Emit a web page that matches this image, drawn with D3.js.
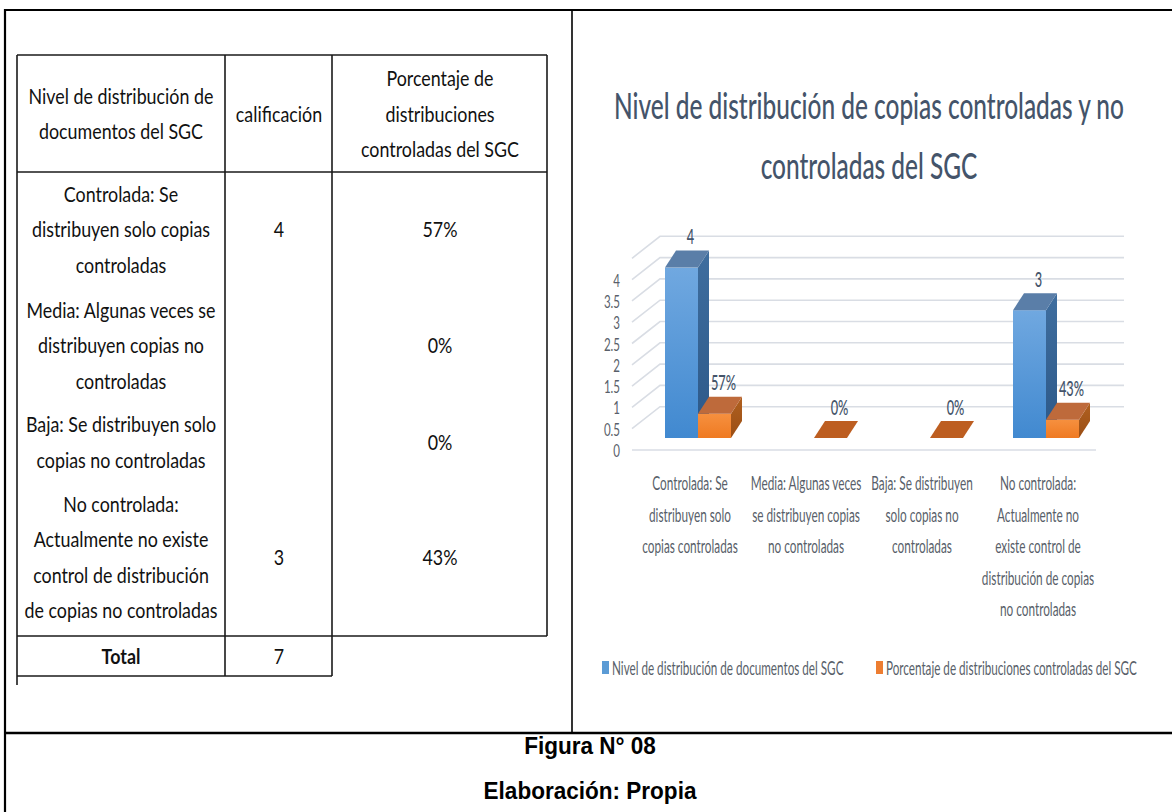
<!DOCTYPE html>
<html>
<head>
<meta charset="utf-8">
<script src="https://cdn.jsdelivr.net/npm/d3@7"></script>
<style>
  html, body { margin: 0; padding: 0; background: #fff; }
  svg { display: block; }
</style>
</head>
<body>
<svg id="fig" width="1172" height="812"></svg>
<script>
// ---- data ----
const categories = ["Controlada", "Media", "Baja", "No controlada"];
const tableRowLines = [
  ["Controlada: Se", "distribuyen solo copias", "controladas"],
  ["Media: Algunas veces se", "distribuyen copias no", "controladas"],
  ["Baja: Se distribuyen solo", "copias no controladas"],
  ["No controlada:", "Actualmente no existe", "control de distribución", "de copias no controladas"]
];
const axisLabelLines = [
  ["Controlada: Se", "distribuyen solo", "copias controladas"],
  ["Media: Algunas veces", "se distribuyen copias", "no controladas"],
  ["Baja: Se distribuyen", "solo copias no", "controladas"],
  ["No controlada:", "Actualmente no", "existe control de", "distribución de copias", "no controladas"]
];
const nivel = [4, null, null, 3];            // calificación
const porcentaje = [0.57, 0, 0, 0.43];       // porcentaje de distribuciones controladas
const headers = [
  ["Nivel de distribución de", "documentos del SGC"],
  ["calificación"],
  ["Porcentaje de", "distribuciones", "controladas del SGC"]
];
const seriesNames = ["Nivel de distribución de documentos del SGC",
                     "Porcentaje de distribuciones controladas del SGC"];
const yTicks = [0, 0.5, 1, 1.5, 2, 2.5, 3, 3.5, 4];
const gridValues = [0.5, 1, 1.5, 2, 2.5, 3, 3.5, 4, 4.5];
const chartTitle = ["Nivel de distribución de copias controladas y no", "controladas del SGC"];
const footer = ["Figura N° 08", "Elaboración: Propia"];

// ---- helpers ----
const svg = d3.select("#fig");
const SANS = "Lato, 'Open Sans', sans-serif";
const pct = d3.format(".0%");

function text(sel, x, y, s, o) {
  return sel.append("text")
    .attr("transform", `translate(${x},${y}) scale(${o.sx || 1},1)`)
    .attr("text-anchor", o.anchor || "middle")
    .attr("dominant-baseline", "central")
    .style("font-family", o.family || SANS)
    .style("font-size", o.size + "px")
    .style("font-weight", o.weight || 400)
    .attr("fill", o.fill || "#000")
    .text(s);
}
function line(sel, x1, y1, x2, y2, w, c) {
  sel.append("line").attr("x1", x1).attr("y1", y1).attr("x2", x2).attr("y2", y2)
    .attr("stroke", c || "#000").attr("stroke-width", w);
}

// ---- page frame ----
const frame = svg.append("g");
line(frame, 5, 10, 1172, 10, 2.2);
line(frame, 5, 9, 5, 812, 2.2);
line(frame, 572, 10, 572, 733, 1.6);
line(frame, 5, 733, 1172, 733, 2.4);
footer.forEach((s, i) =>
  text(frame, 590, 746 + i * 45, s, {size: 23, weight: 700, family: "'Liberation Sans', Arial, sans-serif", sx: 0.98}));

// ---- table ----
const tbl = svg.append("g");
const colX = [17, 225, 332, 547];
const colC = [121, 279, 440];
const tTop = 55, tHead = 172, tBody = 636, tTot = 676;
const tc = "#1a1a1a";
line(tbl, colX[0], tTop, colX[3], tTop, 1.6, tc);
line(tbl, colX[0], tHead, colX[3], tHead, 1.6, tc);
line(tbl, colX[0], tBody, colX[3], tBody, 1.6, tc);
line(tbl, colX[0], tTot, colX[2], tTot, 1.6, tc);
line(tbl, colX[0], tTop, colX[0], 685, 1.6, tc);
line(tbl, colX[1], tTop, colX[1], tTot, 1.6, tc);
line(tbl, colX[2], tTop, colX[2], tTot, 1.6, tc);
line(tbl, colX[3], tTop, colX[3], tBody, 1.6, tc);

const TF = {size: 21.5, sx: 0.83, fill: "#111"};
const LH = 35.5;
headers.forEach((lines, c) => {
  const mid = (tTop + tHead) / 2;
  lines.forEach((s, i) => text(tbl, colC[c], mid + (i - (lines.length - 1) / 2) * LH, s, TF));
});
const rowMid = [229, 345, 442, 557];
tableRowLines.forEach((lines, r) => {
  lines.forEach((s, i) => text(tbl, colC[0], rowMid[r] + (i - (lines.length - 1) / 2) * LH, s, TF));
  if (nivel[r] != null) text(tbl, colC[1], rowMid[r], String(nivel[r]), TF);
  text(tbl, colC[2], rowMid[r], pct(porcentaje[r]), TF);
});
text(tbl, colC[0], 656, "Total", {...TF, weight: 700});
text(tbl, colC[1], 656, String(d3.sum(nivel)), TF);

// ---- chart ----
const ch = svg.append("g");
const titleC = "#44546a", axisC = "#595f6a", gridC = "#d9dde4";
chartTitle.forEach((s, i) => text(ch, 869, 105 + i * 60, s, {size: 37, sx: 0.66, fill: titleC, weight: 500}));

const x = d3.scaleBand().domain(categories).range([632, 1096]);
const y = d3.scaleLinear().domain([0, 4.5]).range([450, 450 - 4.5 * 42.6]);
const wall = {dx: 28, dy: -22};     // depth of the back wall
const base = -12;                    // bars sit a little behind the front edge
const depth = {dx: 11, dy: -17};     // depth of each column
const bw = 33;

// grid: side-wall diagonals + back-wall horizontals
const grid = ch.append("g").attr("stroke", gridC).attr("stroke-width", 1.6).attr("fill", "none");
grid.selectAll("path.g").data(gridValues).join("path")
  .attr("d", v => `M${x.range()[0]},${y(v)} L${x.range()[0] + wall.dx},${y(v) + wall.dy} L${x.range()[1] + wall.dx},${y(v) + wall.dy}`);
grid.append("path").attr("d", `M${x.range()[0]},${y(0)} L${x.range()[1]},${y(0)}`);

// y-axis labels on the front edge
ch.selectAll("g.yt").data(yTicks).join(g => g.append("g")).each(function (v) {
  text(d3.select(this), 620, y(v), String(v), {size: 17.5, sx: 0.66, anchor: "end", fill: axisC});
});

// gradients for the column faces
const defs = svg.append("defs");
function grad(id, c1, c2) {
  const g = defs.append("linearGradient").attr("id", id).attr("x1", 0).attr("y1", 0).attr("x2", 0).attr("y2", 1);
  g.append("stop").attr("offset", 0).attr("stop-color", c1);
  g.append("stop").attr("offset", 1).attr("stop-color", c2);
}
grad("bFront", "#70a8e0", "#4189d0");
grad("bSide", "#3f6e9f", "#2c5888");
grad("oFront", "#f6903f", "#ef7a22");
grad("oSide", "#b0601f", "#9a4e15");
const styles = [
  {front: "url(#bFront)", side: "url(#bSide)", top: "#5a7ea8", flat: "#4a78a8"},
  {front: "url(#oFront)", side: "url(#oSide)", top: "#be6a3b", flat: "#bd5e21"}
];

function column(g, x0, v, st, label) {
  const yb = y(0) + base, yt = y(v) + base;
  const x1 = x0 + bw;
  if (v > 0) {
    g.append("rect").attr("x", x0).attr("y", yt).attr("width", bw).attr("height", yb - yt).attr("fill", st.front);
    g.append("path").attr("fill", st.side)
      .attr("d", `M${x1},${yt} L${x1 + depth.dx},${yt + depth.dy} L${x1 + depth.dx},${yb + depth.dy} L${x1},${yb}Z`);
    g.append("path").attr("fill", st.top)
      .attr("d", `M${x0},${yt} L${x0 + depth.dx},${yt + depth.dy} L${x1 + depth.dx},${yt + depth.dy} L${x1},${yt}Z`);
  } else {
    g.append("path").attr("fill", st.flat)
      .attr("d", `M${x0},${yb} L${x0 + depth.dx},${yb + depth.dy} L${x1 + depth.dx},${yb + depth.dy} L${x1},${yb}Z`);
  }
  text(g, x0 + bw / 2 + 9, yt + depth.dy - 15, label, {size: 22, sx: 0.58, fill: titleC, weight: 500});
}

const bars = ch.append("g");
categories.forEach((c, i) => {
  const cx = x(c) + x.bandwidth() / 2;
  if (nivel[i] != null) column(bars, cx - 25, nivel[i], styles[0], String(nivel[i]));
  if (porcentaje[i] != null) column(bars, cx + 8, porcentaje[i], styles[1], pct(porcentaje[i]));
});

// category labels
axisLabelLines.forEach((lines, i) => {
  const cx = x(categories[i]) + x.bandwidth() / 2;
  lines.forEach((s, j) => text(ch, cx, 482 + j * 31.6, s, {size: 20, sx: 0.59, fill: axisC}));
});

// legend
const lg = ch.append("g");
const legendX = [602, 876];
seriesNames.forEach((s, i) => {
  lg.append("rect").attr("x", legendX[i]).attr("y", 661).attr("width", 7).attr("height", 13)
    .attr("fill", i === 0 ? "#5b9bd5" : "#ed7d31");
  text(lg, legendX[i] + 10, 667, s, {size: 19, sx: 0.615, anchor: "start", fill: axisC});
});
</script>
</body>
</html>
